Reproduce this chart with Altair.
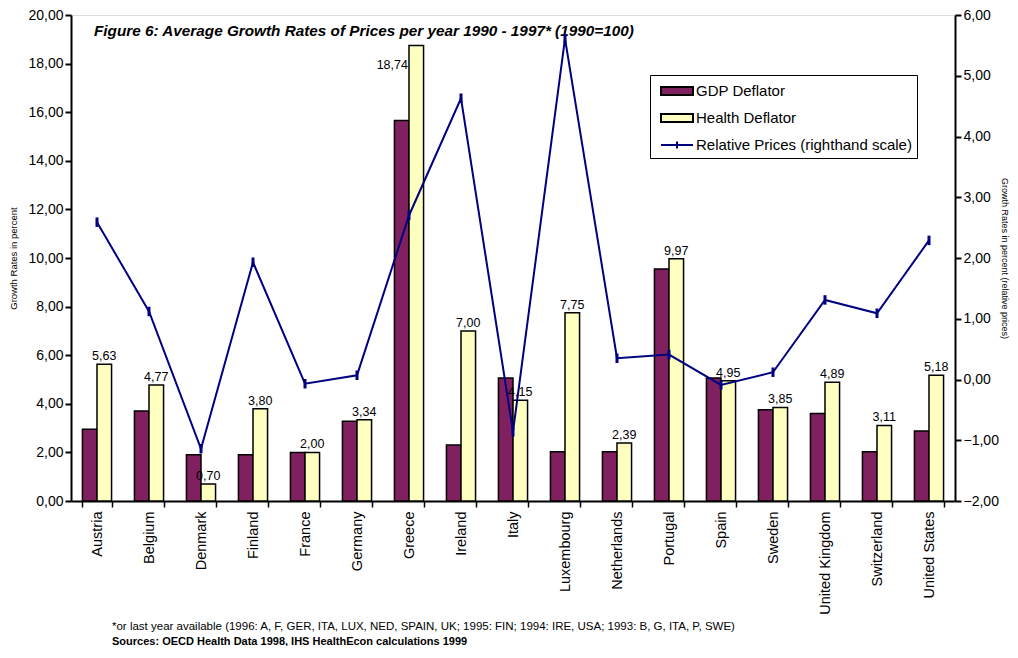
import altair as alt
import pandas as pd

countries = ["Austria", "Belgium", "Denmark", "Finland", "France", "Germany", "Greece",
             "Ireland", "Italy", "Luxembourg", "Netherlands", "Portugal", "Spain",
             "Sweden", "United Kingdom", "Switzerland", "United States"]
gdp_deflator = [2.95, 3.70, 1.90, 1.90, 2.00, 3.28, 15.66, 2.30, 5.06, 2.03, 2.03,
                9.55, 5.06, 3.76, 3.60, 2.03, 2.88]
health_deflator = [5.63, 4.77, 0.70, 3.80, 2.00, 3.34, 18.74, 7.00, 4.15, 7.75, 2.39,
                   9.97, 4.95, 3.85, 4.89, 3.11, 5.18]
relative_prices = [2.59, 1.12, -1.14, 1.93, -0.07, 0.07, 2.70, 4.63, -0.86, 5.61, 0.35,
                   0.41, -0.09, 0.12, 1.31, 1.09, 2.29]

S_GDP = "GDP Deflator"
S_HEALTH = "Health Deflator"
S_REL = "Relative Prices (righthand scale)"
series_names = [S_GDP, S_HEALTH, S_REL]
series_colors = ["#80205F", "#FFFFC0", "#000080"]
LINE_COLOR = "#000080"

title_text = "Figure 6: Average Growth Rates of Prices per year 1990 - 1997* (1990=100)"
footnote = "*or last year available (1996: A, F, GER, ITA, LUX, NED, SPAIN, UK; 1995:  FIN; 1994: IRE, USA; 1993: B, G, ITA, P, SWE)"
sources = "Sources: OECD Health Data 1998, IHS HealthEcon calculations 1999"

FONT = "Liberation Sans"

bars_df = pd.DataFrame({
    "country": countries * 2,
    "series": [S_GDP] * len(countries) + [S_HEALTH] * len(countries),
    "value": gdp_deflator + health_deflator,
})
label_df = pd.DataFrame({
    "country": countries,
    "series": [S_HEALTH] * len(countries),
    "value": health_deflator,
    "label": [f"{v:.2f}".replace(".", ",") for v in health_deflator],
})
line_df = pd.DataFrame({
    "country": countries,
    "series": [S_REL] * len(countries),
    "value": relative_prices,
})

x_enc = alt.X("country:N", sort=countries,
              scale=alt.Scale(paddingInner=0.44, paddingOuter=0.22),
              axis=alt.Axis(title=None, labelAngle=-90, labelFont=FONT, labelFontSize=14.5,
                            labelColor="black", tickBand="extent", tickSize=6,
                            tickWidth=1.5, tickColor="black", domainColor="black",
                            domainWidth=2, labelPadding=4))
x_plain = alt.X("country:N", sort=countries)
xoff = alt.XOffset("series:N", sort=[S_GDP, S_HEALTH])

is_rel = "datum.value === '" + S_REL + "'"
color_enc = alt.Color(
    "series:N",
    scale=alt.Scale(domain=series_names, range=series_colors),
    legend=alt.Legend(
        orient="none", legendX=579, legendY=60, title=None,
        strokeColor="black", fillColor="white", padding=5,
        labelFont=FONT, labelFontSize=15, labelColor="black",
        rowPadding=8, symbolOffset=11, labelOffset=8, symbolSize=400,
        symbolStrokeWidth=2, labelLimit=400, symbolOpacity=1,
        symbolType=alt.ExprRef(expr=is_rel + " ? 'M-1.6,0H1.6M0,-0.35V0.35' : 'M-1.6,-0.4H1.6V0.4H-1.6Z'"),
        symbolFillColor=alt.ExprRef(expr=is_rel + " ? 'transparent' : scale('color', datum.value)"),
        symbolStrokeColor=alt.ExprRef(expr=is_rel + " ? '" + LINE_COLOR + "' : 'black'"),
    ),
)

left_y = alt.Y("value:Q", scale=alt.Scale(domain=[0, 20], nice=False),
               axis=alt.Axis(title="Growth Rates in percent", titleFont=FONT, titleFontSize=9.5,
                             titleFontWeight="normal", titleColor="black",
                             values=list(range(0, 21, 2)),
                             labelExpr="replace(format(datum.value, '.2f'), '.', ',')",
                             labelFont=FONT, labelFontSize=14, labelColor="black",
                             tickSize=6, tickWidth=2, tickColor="black",
                             domainColor="black", domainWidth=2, grid=False, titlePadding=9))

bars = alt.Chart(bars_df).mark_bar(stroke="black", strokeWidth=1.5, opacity=1).encode(
    x=x_enc, xOffset=xoff, y=left_y, color=color_enc)

labels = alt.Chart(label_df).transform_filter(alt.datum.country != "Greece").mark_text(
    font=FONT, fontSize=12.5, color="black", dy=-8).encode(
    x=x_plain, xOffset=xoff, y=left_y, text="label:N")

greece_label = alt.Chart(label_df).transform_filter(alt.datum.country == "Greece").mark_text(
    font=FONT, fontSize=12.5, color="black", dx=-24, dy=19).encode(
    x=x_plain, xOffset=xoff, y=left_y, text="label:N")

title_mark = alt.Chart(pd.DataFrame({"t": [title_text]})).mark_text(
    font=FONT, fontSize=15.3, fontWeight="bold", fontStyle="italic", color="black",
    align="left", baseline="middle").encode(
    x=alt.value(23), y=alt.value(16), text="t:N")

left = alt.layer(bars, labels, greece_label, title_mark)

right_y = alt.Y("value:Q", scale=alt.Scale(domain=[-2, 6], nice=False),
                axis=alt.Axis(orient="right", title="Growth Rates in percent (relative prices)",
                              titleFont=FONT, titleFontSize=9, titleFontWeight="normal",
                              titleColor="black", values=list(range(-2, 7)),
                              labelExpr="replace(format(datum.value, '.2f'), '.', ',')",
                              labelFont=FONT, labelFontSize=14, labelColor="black",
                              tickSize=6, tickWidth=2, tickColor="black",
                              domainColor="black", domainWidth=2, grid=False, titlePadding=1))

line = alt.Chart(line_df).mark_line(strokeWidth=2, color=LINE_COLOR).encode(
    x=x_plain, y=right_y)

points = alt.Chart(line_df).mark_point(shape="M0,-1V1", size=90, strokeWidth=3,
                                       color=LINE_COLOR, opacity=1).encode(
    x=x_plain, y=right_y)

right = alt.layer(line, points)

chart = alt.layer(left, right).resolve_scale(y="independent").properties(
    width=884, height=486,
    autosize=alt.AutoSizeParams(type="none"),
    padding={"left": 63, "top": 7, "right": 55, "bottom": 145},
    title=alt.TitleParams(
        text=footnote, subtitle=sources, orient="bottom", anchor="start", frame="group",
        font=FONT, fontSize=11.5, fontWeight="normal", color="black",
        subtitleFont=FONT, subtitleFontSize=11,
        subtitleFontWeight="bold", subtitleColor="black", subtitlePadding=3,
        dx=41, offset=7),
).configure_view(stroke="#999999", strokeWidth=1.5).configure(background="white")

chart.save("out.html", embed_options={"renderer": "svg", "actions": False})
